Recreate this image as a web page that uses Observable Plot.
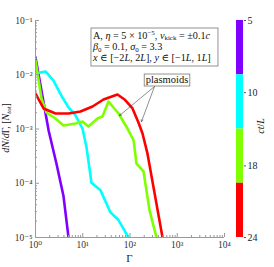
<!DOCTYPE html>
<html><head><meta charset="utf-8">
<script src="https://cdn.jsdelivr.net/npm/d3@7"></script>
<script src="https://cdn.jsdelivr.net/npm/@observablehq/plot@0.6"></script>
<style>
body{margin:0;background:#fff}
#wrap{position:relative;width:274px;height:267px}
#wrap svg{position:absolute;left:0;top:0}
</style>
</head><body><div id="wrap"></div>
<script>
// ---- data ----
const series = ["5", "10", "18", "24"];          // ct/L
const colors = ["#8000ff", "#00ffff", "#80ff00", "#ff0000"];

const gamma5  = [1, 1.9, 2.78, 3.9, 5.0, 5.5];
const dn5     = [2.09e-2, 9.3e-4, 2.29e-4, 5.9e-5, 1.0e-5, 4.9e-6];

const gamma10 = [1, 1.63, 2.4, 3.72, 4.99, 7.03, 9.89, 12.0, 15.3, 23.8, 38.6, 57.1, 92.9, 112];
const dn10    = [1.05e-2, 1.15e-2, 7.8e-3, 3.8e-3, 2.5e-3, 1.78e-3, 1.02e-3, 4.6e-4, 1.02e-4, 7.4e-5, 2.9e-5, 2.1e-5, 1.0e-5, 6.3e-6];

const gamma18 = [1, 1.34, 1.71, 2.65, 3.92, 7.03, 9.89, 13.2, 20.5, 26.2, 35.1, 57.1, 88.5, 119, 137, 193, 259, 364, 417];
const dn18    = [1.83e-2, 3.65e-3, 2.01e-3, 1.56e-3, 1.16e-3, 1.26e-3, 1.37e-3, 1.11e-3, 1.56e-3, 1.70e-3, 3.21e-3, 1.93e-3, 1.02e-3, 6.2e-4, 2.31e-4, 1.66e-4, 3.16e-5, 1.0e-5, 6.3e-6];

const gamma24 = [1, 1.48, 2.65, 4.99, 8.95, 16.1, 27.5, 54.3, 76.6, 113, 151, 184, 234, 488, 562];
const dn24    = [4.51e-3, 2.39e-3, 1.93e-3, 1.93e-3, 2.10e-3, 2.60e-3, 3.50e-3, 4.33e-3, 3.50e-3, 2.39e-3, 1.32e-3, 8.26e-4, 3.55e-4, 1.0e-5, 5.0e-6];

const xMajor = [1, 10, 100, 1000, 10000];
const xLabels = ["10⁰", "10¹", "10²", "10³", "10⁴"];
const yMajor = [1e-5, 1e-4, 1e-3, 1e-2, 1e-1];
const yLabels = ["10⁻⁵", "10⁻⁴", "10⁻³", "10⁻²", "10⁻¹"];

// colorbar tick positions (segment units, 0 = top) and labels
const cbTickPos = [0, 1.33, 2.68, 4];
const cbTickLabels = ["5", "10", "18", "24"];

// annotations (data coordinates)
const infoAnchor = {x: 15.3, y: 0.0712};
const plasmoidsAt = {x: 622, y: 7.83e-3};
const arrowStart = {x: 330, y: 6.07e-3};
const arrowEnds = [{x: 60, y: 1.77e-3}, {x: 175, y: 1.37e-3}];

// ---- build ----
const allG = [gamma5, gamma10, gamma18, gamma24];
const allV = [dn5, dn10, dn18, dn24];
const rows = [];
allG.forEach((g, s) => g.forEach((x, i) => rows.push({x, y: allV[s][i], s: series[s]})));

const minor = (lo, hi) => {
  const out = [];
  for (let e = lo; e < hi; e++) for (let m = 2; m <= 9; m++) out.push(m * 10 ** e);
  return out;
};
const xMinor = minor(0, 4);
const yMinor = minor(-5, -1);

const serif = "'Liberation Serif', 'DejaVu Serif', serif";
const grey = "#9a9a9a";

const plot = Plot.plot({
  width: 274, height: 267,
  marginLeft: 35, marginRight: 50, marginTop: 20, marginBottom: 30,
  style: {fontFamily: serif, fontSize: "10px", color: "#222", background: "transparent"},
  x: {type: "log", domain: [1, 1e4], axis: null},
  y: {type: "log", domain: [1e-5, 1e-1], axis: null},
  color: {domain: series, range: colors},
  marks: [
    Plot.line(rows, {x: "x", y: "y", z: "s", stroke: "s", strokeWidth: 2.6, clip: true, strokeLinejoin: "round"}),
    Plot.ruleX([1], {stroke: grey}),
    Plot.ruleY([1e-5], {stroke: grey}),
    Plot.axisX({ticks: xMajor, tickSize: -4, tickFormat: () => "", stroke: grey, label: null}),
    Plot.axisX({ticks: xMinor, tickSize: -2, tickFormat: () => "", stroke: grey, label: null}),
    Plot.axisY({ticks: yMajor, tickSize: -4, tickFormat: () => "", stroke: grey, label: null}),
    Plot.axisY({ticks: yMinor, tickSize: -2, tickFormat: () => "", stroke: grey, label: null}),
    Plot.axisX({ticks: xMajor, tickSize: 0, tickPadding: 4, tickFormat: d => xLabels[xMajor.indexOf(d)], fill: "#333", label: null, fontSize: 9.5}),
    Plot.axisY({ticks: yMajor, tickSize: 0, tickPadding: 3, tickFormat: d => yLabels[yMajor.indexOf(d)], fill: "#333", label: null, fontSize: 9.5}),
    Plot.arrow(arrowEnds, {x1: () => arrowStart.x, y1: () => arrowStart.y, x2: "x", y2: "y", stroke: "#444", strokeWidth: 0.6, headLength: 5, bend: 0})
  ]
});

const cb = Plot.plot({
  width: 274, height: 267,
  marginLeft: 236, marginRight: 31, marginTop: 20, marginBottom: 30,
  style: {fontFamily: serif, fontSize: "10px", color: "#222", background: "transparent"},
  y: {domain: [0, 4], reverse: true, axis: null},
  color: {type: "identity"},
  marks: [
    Plot.rect(colors, {y1: (d, i) => i, y2: (d, i) => i + 1, fill: d => d}),
    Plot.axisY({ticks: cbTickPos, anchor: "right", tickSize: 2, tickPadding: 2, tickFormat: d => cbTickLabels[cbTickPos.indexOf(d)], stroke: "#555", fill: "#222", label: null, fontSize: 10})
  ]
});

const wrap = document.getElementById("wrap");
wrap.appendChild(plot);
wrap.appendChild(cb);

// ---- annotations with sub/superscripts, positioned by the plot's scales ----
const sx = plot.scale("x"), sy = plot.scale("y");
const svg = d3.select(plot);
const SUB = 0.18, SUP = 0.36;

function richText(g, parts, size) {
  const t = g.append("text").attr("font-family", serif).attr("font-size", size).attr("fill", "#111").attr("text-anchor", "start");
  parts.forEach(p => {
    const ts = t.append("tspan").text(p.t);
    if (p.i) ts.attr("font-style", "italic");
    if (p.sup) ts.attr("font-size", size * 0.68).attr("dy", -size * SUP);
    if (p.sub) ts.attr("font-size", size * 0.68).attr("dy", size * SUB);
    if (p.back) ts.attr("dy", p.back * size);
  });
  return t;
}

const fs = 10.2;
const info = [
  [{t: "A, "}, {t: "η", i: 1}, {t: " = 5 × 10"}, {t: "−5", sup: 1}, {t: ", ", back: SUP}, {t: "v", i: 1}, {t: "kick", sub: 1}, {t: " = ±0.1", back: -SUB}, {t: "c", i: 1}],
  [{t: "β", i: 1}, {t: "0", sub: 1}, {t: " = 0.1, ", back: -SUB}, {t: "σ", i: 1}, {t: "0", sub: 1}, {t: " = 3.3", back: -SUB}],
  [{t: "x", i: 1}, {t: " ∈ [−2"}, {t: "L", i: 1}, {t: ", 2"}, {t: "L", i: 1}, {t: "], "}, {t: "y", i: 1}, {t: " ∈ [−1"}, {t: "L", i: 1}, {t: ", 1"}, {t: "L", i: 1}, {t: "]"}]
];
const ig = svg.append("g");
const ix = sx.apply(infoAnchor.x), iy = sy.apply(infoAnchor.y);
info.forEach((line, k) => {
  richText(ig, line, fs).attr("x", ix + 2).attr("y", iy + 10.5 + k * 11.3);
});
const ib = ig.node().getBBox();
ig.insert("rect", ":first-child").attr("x", ix).attr("y", iy)
  .attr("width", Math.max(127, ib.x + ib.width - ix + 2)).attr("height", 38).attr("fill", "#fff").attr("stroke", "#777").attr("stroke-width", 0.8);

const pg = svg.append("g");
const pt = richText(pg, [{t: "plasmoids"}], 10.5).attr("x", sx.apply(plasmoidsAt.x)).attr("y", sy.apply(plasmoidsAt.y) + 3).attr("text-anchor", "middle");
const pb = pt.node().getBBox();
pg.insert("rect", ":first-child").attr("x", pb.x - 1.5).attr("y", sy.apply(plasmoidsAt.y) - 6)
  .attr("width", pb.width + 3).attr("height", 12).attr("fill", "#fff").attr("stroke", "#777").attr("stroke-width", 0.8);

// axis titles
svg.append("text").attr("font-family", serif).attr("font-size", 11)
  .attr("x", sx.apply(100)).attr("y", 262).attr("text-anchor", "middle").text("Γ");

richText(svg, [{t: "d", i: 1}, {t: "N", i: 1}, {t: "/"}, {t: "d", i: 1}, {t: "Γ, ["}, {t: "N", i: 1}, {t: "tot", sub: 1, i: 1}, {t: "]", back: -SUB}], 10)
  .attr("text-anchor", "middle").attr("transform", "translate(9,128) rotate(-90)");

const cbs = d3.select(cb);
richText(cbs, [{t: "ct", i: 1}, {t: "/"}, {t: "L", i: 1}], 10)
  .attr("text-anchor", "middle").attr("transform", "translate(264,126) rotate(-90)");
</script>
</body></html>
